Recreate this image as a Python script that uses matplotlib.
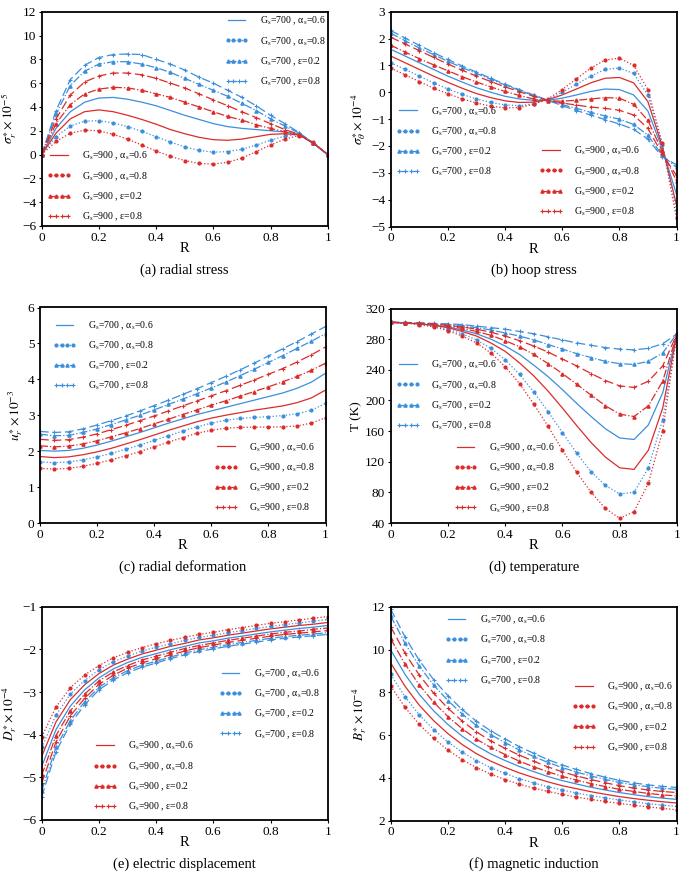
import numpy as np
import matplotlib
matplotlib.use("Agg")
import matplotlib.pyplot as plt

plt.rcParams["font.family"] = ["Liberation Serif", "DejaVu Serif"]
plt.rcParams["mathtext.fontset"] = "stix"

R = [0, 0.05, 0.1, 0.15, 0.2, 0.25, 0.3, 0.35, 0.4, 0.45, 0.5,
     0.55, 0.6, 0.65, 0.7, 0.75, 0.8, 0.85, 0.9, 0.95, 1.0]

# (a) radial stress  x1e-5
sr_700_a6 = [0, 2.2, 3.6, 4.4, 4.75, 4.8, 4.65, 4.4, 4.1, 3.7, 3.3, 2.95, 2.6, 2.35, 2.2, 2.1, 2.0, 1.9, 1.7, 0.95, 0]
sr_700_a8 = [0, 1.5, 2.4, 2.8, 2.85, 2.65, 2.35, 1.95, 1.5, 1.05, 0.65, 0.35, 0.2, 0.25, 0.45, 0.8, 1.2, 1.55, 1.7, 1.0, 0]
sr_700_e2 = [0, 3.4, 5.8, 7.0, 7.6, 7.8, 7.8, 7.6, 7.3, 6.9, 6.4, 5.9, 5.4, 4.9, 4.3, 3.7, 3.0, 2.4, 1.8, 0.95, 0]
sr_700_e8 = [0, 3.7, 6.3, 7.5, 8.15, 8.4, 8.45, 8.4, 8.0, 7.6, 7.1, 6.5, 6.0, 5.4, 4.8, 4.1, 3.3, 2.6, 1.85, 0.95, 0]
sr_900_a6 = [0, 1.8, 3.0, 3.6, 3.75, 3.6, 3.3, 2.95, 2.55, 2.1, 1.75, 1.45, 1.25, 1.2, 1.3, 1.5, 1.7, 1.75, 1.65, 0.95, 0]
sr_900_a8 = [0, 1.1, 1.8, 2.05, 2.0, 1.7, 1.3, 0.8, 0.3, -0.15, -0.5, -0.75, -0.8, -0.65, -0.3, 0.25, 0.8, 1.3, 1.6, 1.05, 0]
sr_900_e2 = [0, 2.6, 4.2, 5.1, 5.5, 5.65, 5.6, 5.4, 5.1, 4.8, 4.4, 4.0, 3.6, 3.2, 2.9, 2.5, 2.2, 1.9, 1.65, 0.95, 0]
sr_900_e8 = [0, 3.0, 5.0, 6.1, 6.6, 6.85, 6.85, 6.7, 6.4, 6.0, 5.6, 5.1, 4.6, 4.1, 3.6, 3.1, 2.6, 2.1, 1.7, 0.95, 0]

# (b) hoop stress  x1e-4
sh_700_a6 = [1.6, 1.35, 1.1, 0.85, 0.6, 0.38, 0.17, 0.0, -0.15, -0.25, -0.3, -0.3, -0.22, -0.1, 0.03, 0.12, 0.1, -0.1, -0.7, -2.1, -3.8]
sh_700_a8 = [1.1, 0.85, 0.6, 0.35, 0.12, -0.08, -0.25, -0.38, -0.47, -0.5, -0.43, -0.28, 0.0, 0.3, 0.6, 0.85, 0.9, 0.7, -0.1, -1.95, -4.4]
sh_700_e2 = [2.2, 1.92, 1.65, 1.4, 1.15, 0.92, 0.7, 0.48, 0.27, 0.07, -0.12, -0.3, -0.46, -0.6, -0.75, -0.88, -1.0, -1.2, -1.6, -2.35, -2.8]
sh_700_e8 = [2.3, 2.02, 1.75, 1.48, 1.22, 0.98, 0.75, 0.52, 0.3, 0.1, -0.1, -0.3, -0.5, -0.68, -0.85, -1.02, -1.18, -1.38, -1.75, -2.4, -2.7]
sh_900_a6 = [1.35, 1.1, 0.85, 0.6, 0.37, 0.15, -0.05, -0.2, -0.32, -0.38, -0.37, -0.28, -0.1, 0.12, 0.35, 0.52, 0.55, 0.35, -0.35, -2.0, -4.2]
sh_900_a8 = [0.9, 0.65, 0.4, 0.15, -0.05, -0.25, -0.4, -0.52, -0.58, -0.57, -0.45, -0.25, 0.1, 0.5, 0.9, 1.2, 1.27, 1.0, 0.1, -1.9, -4.7]
sh_900_e2 = [1.75, 1.5, 1.25, 1.02, 0.8, 0.58, 0.38, 0.2, 0.03, -0.12, -0.25, -0.32, -0.33, -0.3, -0.25, -0.2, -0.22, -0.45, -1.05, -2.2, -3.3]
sh_900_e8 = [2.05, 1.8, 1.55, 1.3, 1.05, 0.82, 0.6, 0.4, 0.2, 0.02, -0.15, -0.3, -0.4, -0.48, -0.55, -0.6, -0.67, -0.85, -1.35, -2.3, -3.1]

# (c) radial deformation  x1e-3
ur_700_a6 = [2.02, 2.0, 2.02, 2.08, 2.17, 2.28, 2.4, 2.52, 2.65, 2.78, 2.9, 3.02, 3.12, 3.22, 3.32, 3.42, 3.52, 3.62, 3.75, 3.92, 4.17]
ur_700_a8 = [1.7, 1.68, 1.7, 1.76, 1.84, 1.94, 2.05, 2.17, 2.3, 2.43, 2.56, 2.68, 2.78, 2.86, 2.91, 2.94, 2.96, 2.99, 3.04, 3.14, 3.33]
ur_700_e2 = [2.47, 2.43, 2.44, 2.52, 2.62, 2.74, 2.87, 3.0, 3.15, 3.3, 3.45, 3.6, 3.76, 3.92, 4.1, 4.28, 4.47, 4.66, 4.86, 5.06, 5.27]
ur_700_e8 = [2.55, 2.52, 2.54, 2.62, 2.73, 2.85, 2.98, 3.12, 3.27, 3.42, 3.58, 3.74, 3.91, 4.08, 4.26, 4.45, 4.65, 4.85, 5.05, 5.26, 5.47]
ur_900_a6 = [1.85, 1.82, 1.84, 1.9, 1.98, 2.08, 2.2, 2.32, 2.45, 2.58, 2.7, 2.82, 2.92, 3.0, 3.07, 3.14, 3.2, 3.26, 3.35, 3.48, 3.7]
ur_900_a8 = [1.52, 1.5, 1.52, 1.58, 1.66, 1.76, 1.87, 1.99, 2.12, 2.25, 2.38, 2.5, 2.58, 2.64, 2.66, 2.67, 2.67, 2.68, 2.7, 2.78, 2.93]
ur_900_e2 = [2.15, 2.12, 2.14, 2.2, 2.29, 2.4, 2.51, 2.63, 2.76, 2.89, 3.02, 3.15, 3.28, 3.4, 3.53, 3.66, 3.79, 3.93, 4.08, 4.25, 4.45]
ur_900_e8 = [2.33, 2.3, 2.32, 2.39, 2.48, 2.6, 2.72, 2.85, 2.98, 3.12, 3.26, 3.4, 3.54, 3.68, 3.83, 3.98, 4.14, 4.3, 4.48, 4.68, 4.9]

# (d) temperature  K
t_700_a6 = [302, 301, 300, 298, 296, 292, 287, 280, 271, 260, 246, 231, 214, 196, 179, 163, 151, 149, 168, 210, 287]
t_700_a8 = [302, 301, 300, 297, 293, 287, 279, 268, 253, 234, 211, 185, 158, 131, 107, 89, 78, 80, 112, 175, 287]
t_700_e2 = [302, 301.5, 301, 300, 299, 297, 295, 292, 288, 284, 279, 273, 267, 261, 256, 251, 248, 247, 251, 262, 287]
t_700_e8 = [302, 302, 301, 300.5, 300, 299, 297, 295, 293, 290, 287, 283, 279, 275, 272, 269, 267, 266, 268, 274, 287]
t_900_a6 = [302, 301, 300, 298, 295, 290, 284, 275, 264, 249, 232, 212, 190, 167, 145, 126, 112, 110, 135, 190, 287]
t_900_a8 = [302, 301, 299, 296, 291, 284, 275, 262, 244, 222, 195, 166, 135, 106, 80, 59, 46, 55, 92, 160, 287]
t_900_e2 = [302, 301, 300, 299, 297, 294, 290, 285, 278, 270, 260, 248, 235, 221, 207, 193, 182, 179, 193, 225, 287]
t_900_e8 = [302, 301.5, 301, 300, 298, 296, 293, 289, 284, 278, 271, 263, 254, 245, 235, 226, 219, 217, 225, 245, 287]

# (e) electric displacement  x1e-4
d_700_a6 = [-4.75, -3.88, -3.33, -2.95, -2.67, -2.46, -2.31, -2.19, -2.10, -2.01, -1.93, -1.85, -1.80, -1.74, -1.69, -1.64, -1.59, -1.55, -1.51, -1.48, -1.44]
d_700_a8 = [-4.30, -3.54, -3.05, -2.73, -2.48, -2.29, -2.16, -2.04, -1.95, -1.87, -1.79, -1.72, -1.67, -1.61, -1.56, -1.51, -1.46, -1.42, -1.38, -1.34, -1.30]
d_700_e2 = [-5.31, -4.30, -3.67, -3.23, -2.89, -2.67, -2.50, -2.37, -2.28, -2.18, -2.09, -2.01, -1.95, -1.89, -1.84, -1.79, -1.74, -1.70, -1.67, -1.64, -1.61]
d_700_e8 = [-5.45, -4.40, -3.75, -3.30, -2.95, -2.72, -2.55, -2.42, -2.32, -2.22, -2.13, -2.05, -1.99, -1.93, -1.88, -1.83, -1.78, -1.74, -1.71, -1.68, -1.65]
d_900_a6 = [-4.51, -3.70, -3.18, -2.83, -2.57, -2.37, -2.23, -2.11, -2.02, -1.93, -1.86, -1.78, -1.73, -1.67, -1.62, -1.57, -1.52, -1.48, -1.44, -1.41, -1.37]
d_900_a8 = [-4.05, -3.35, -2.90, -2.60, -2.38, -2.20, -2.07, -1.96, -1.87, -1.79, -1.72, -1.65, -1.60, -1.54, -1.49, -1.44, -1.39, -1.35, -1.31, -1.27, -1.23]
d_900_e2 = [-4.95, -4.02, -3.44, -3.05, -2.74, -2.53, -2.38, -2.25, -2.16, -2.07, -1.98, -1.91, -1.85, -1.79, -1.74, -1.69, -1.64, -1.60, -1.57, -1.53, -1.50]
d_900_e8 = [-5.14, -4.17, -3.56, -3.15, -2.82, -2.61, -2.44, -2.32, -2.22, -2.13, -2.04, -1.96, -1.90, -1.84, -1.79, -1.74, -1.69, -1.65, -1.62, -1.59, -1.56]

# (f) magnetic induction  x1e-4
b_700_a6 = [9.99, 8.85, 7.91, 7.14, 6.50, 5.95, 5.50, 5.12, 4.81, 4.53, 4.29, 4.06, 3.87, 3.71, 3.56, 3.43, 3.31, 3.21, 3.12, 3.05, 2.99]
b_700_a8 = [8.84, 7.80, 6.95, 6.26, 5.68, 5.20, 4.81, 4.47, 4.21, 3.96, 3.76, 3.58, 3.43, 3.29, 3.17, 3.06, 2.96, 2.88, 2.79, 2.72, 2.66]
b_700_e2 = [11.58, 10.30, 9.23, 8.35, 7.62, 6.99, 6.45, 6.02, 5.65, 5.30, 5.00, 4.72, 4.48, 4.27, 4.09, 3.93, 3.78, 3.67, 3.58, 3.51, 3.46]
b_700_e8 = [11.9, 10.6, 9.5, 8.6, 7.85, 7.2, 6.65, 6.2, 5.82, 5.46, 5.15, 4.85, 4.6, 4.39, 4.2, 4.03, 3.88, 3.76, 3.67, 3.6, 3.55]
b_900_a6 = [9.38, 8.29, 7.40, 6.68, 6.07, 5.56, 5.13, 4.78, 4.49, 4.23, 4.01, 3.81, 3.63, 3.49, 3.35, 3.23, 3.12, 3.03, 2.95, 2.88, 2.82]
b_900_a8 = [8.3, 7.3, 6.5, 5.85, 5.3, 4.85, 4.48, 4.17, 3.92, 3.7, 3.52, 3.36, 3.22, 3.1, 2.99, 2.89, 2.8, 2.72, 2.64, 2.57, 2.5]
b_900_e2 = [10.51, 9.33, 8.35, 7.54, 6.87, 6.30, 5.81, 5.42, 5.09, 4.78, 4.52, 4.28, 4.07, 3.89, 3.73, 3.59, 3.46, 3.36, 3.27, 3.20, 3.15]
b_900_e8 = [11.07, 9.84, 8.81, 7.97, 7.26, 6.66, 6.15, 5.73, 5.38, 5.06, 4.78, 4.51, 4.28, 4.09, 3.92, 3.77, 3.63, 3.52, 3.43, 3.36, 3.31]

case_labels = [r"α$_\mathrm{s}$=0.6", r"α$_\mathrm{s}$=0.8", "ε=0.2", "ε=0.8"]

BLUE = "#3b8fdc"
RED = "#dc2b2b"
STYLES = [dict(ls="-", marker=None),
          dict(ls=":", marker="o", ms=2.0),
          dict(ls="-.", marker="^", ms=2.3),
          dict(ls=(0, (7, 3)), marker="+", ms=3.5, mew=0.8)]

panels = [
    dict(s700=[sr_700_a6, sr_700_a8, sr_700_e2, sr_700_e8],
         s900=[sr_900_a6, sr_900_a8, sr_900_e2, sr_900_e8],
         ylim=(-6, 12), yticks=np.arange(-6, 13, 2),
         ylabel=r"$\sigma_r^{\ast}\times10^{-5}$", cap="(a) radial stress",
         leg700=(0.64, 0.985), leg900=(0.02, 0.355)),
    dict(s700=[sh_700_a6, sh_700_a8, sh_700_e2, sh_700_e8],
         s900=[sh_900_a6, sh_900_a8, sh_900_e2, sh_900_e8],
         ylim=(-5, 3), yticks=np.arange(-5, 4, 1),
         ylabel=r"$\sigma_\theta^{\ast}\times10^{-4}$", cap="(b) hoop stress",
         leg700=(0.02, 0.565), leg900=(0.52, 0.38)),
    dict(s700=[ur_700_a6, ur_700_a8, ur_700_e2, ur_700_e8],
         s900=[ur_900_a6, ur_900_a8, ur_900_e2, ur_900_e8],
         ylim=(0, 6), yticks=np.arange(0, 7, 1),
         ylabel=r"$u_r^{\ast}\times10^{-3}$", cap="(c) radial deformation",
         leg700=(0.045, 0.945), leg900=(0.61, 0.38)),
    dict(s700=[t_700_a6, t_700_a8, t_700_e2, t_700_e8],
         s900=[t_900_a6, t_900_a8, t_900_e2, t_900_e8],
         ylim=(40, 320), yticks=np.arange(40, 321, 40),
         ylabel="T (K)", cap="(d) temperature",
         leg700=(0.02, 0.765), leg900=(0.22, 0.38)),
    dict(s700=[d_700_a6, d_700_a8, d_700_e2, d_700_e8],
         s900=[d_900_a6, d_900_a8, d_900_e2, d_900_e8],
         ylim=(-6, -1), yticks=np.arange(-6, 0, 1),
         ylabel=r"$D_r^{\ast}\times10^{-4}$", cap="(e) electric displacement",
         leg700=(0.62, 0.715), leg900=(0.18, 0.375)),
    dict(s700=[b_700_a6, b_700_a8, b_700_e2, b_700_e8],
         s900=[b_900_a6, b_900_a8, b_900_e2, b_900_e8],
         ylim=(2, 12), yticks=np.arange(2, 13, 2),
         ylabel=r"$B_r^{\ast}\times10^{-4}$", cap="(f) magnetic induction",
         leg700=(0.19, 0.968), leg900=(0.635, 0.655)),
]

fig = plt.figure(figsize=(6.85, 8.77), dpi=100)
W, H = 685, 877
boxes = [(41.7, 11.7, 327.7, 226), (390.7, 11.7, 676.5, 226.5),
         (40.0, 307.5, 325.5, 523), (390.7, 308.5, 677, 523),
         (41.7, 606.7, 327.7, 820), (390.7, 607, 676.5, 820.5)]

for p, (x0, y0, x1, y1) in zip(panels, boxes):
    ax = fig.add_axes([x0 / W, 1 - y1 / H, (x1 - x0) / W, (y1 - y0) / H])
    h700, h900 = [], []
    for k in range(4):
        st = STYLES[k]
        l1, = ax.plot(R, p["s700"][k], color=BLUE, lw=0.9, **st)
        l2, = ax.plot(R, p["s900"][k], color=RED, lw=0.9, **st)
        h700.append(l1)
        h900.append(l2)
    ax.set_xlim(0, 1)
    ax.set_ylim(*p["ylim"])
    ax.set_xticks([0, 0.2, 0.4, 0.6, 0.8, 1])
    ax.set_xticklabels(["0", "0.2", "0.4", "0.6", "0.8", "1"])
    ax.set_yticks(p["yticks"])
    ax.tick_params(direction="out", length=2.5, width=0.8, labelsize=9.5, pad=1.5)
    for s in ax.spines.values():
        s.set_linewidth(1.3)
    ax.set_xlabel("R", fontsize=10.5, labelpad=-1)
    ax.set_ylabel(p["ylabel"], fontsize=9.5, labelpad=2)
    kw = dict(loc="upper left", frameon=False, fontsize=7, handlelength=2.4,
              handletextpad=1.2, labelspacing=0.8, borderpad=0, borderaxespad=0,
              numpoints=4)
    lg1 = ax.legend(h700, ["G$_\\mathrm{s}$=700 , " + c for c in case_labels],
                    bbox_to_anchor=p["leg700"], **kw)
    ax.add_artist(lg1)
    ax.legend(h900, ["G$_\\mathrm{s}$=900 , " + c for c in case_labels],
              bbox_to_anchor=p["leg900"], **kw)
    fig.text((x0 + x1) / 2 / W, 1 - (y1 + 44) / H, p["cap"],
             ha="center", va="center", fontsize=10.5)

fig.savefig("out.png", dpi=100)
